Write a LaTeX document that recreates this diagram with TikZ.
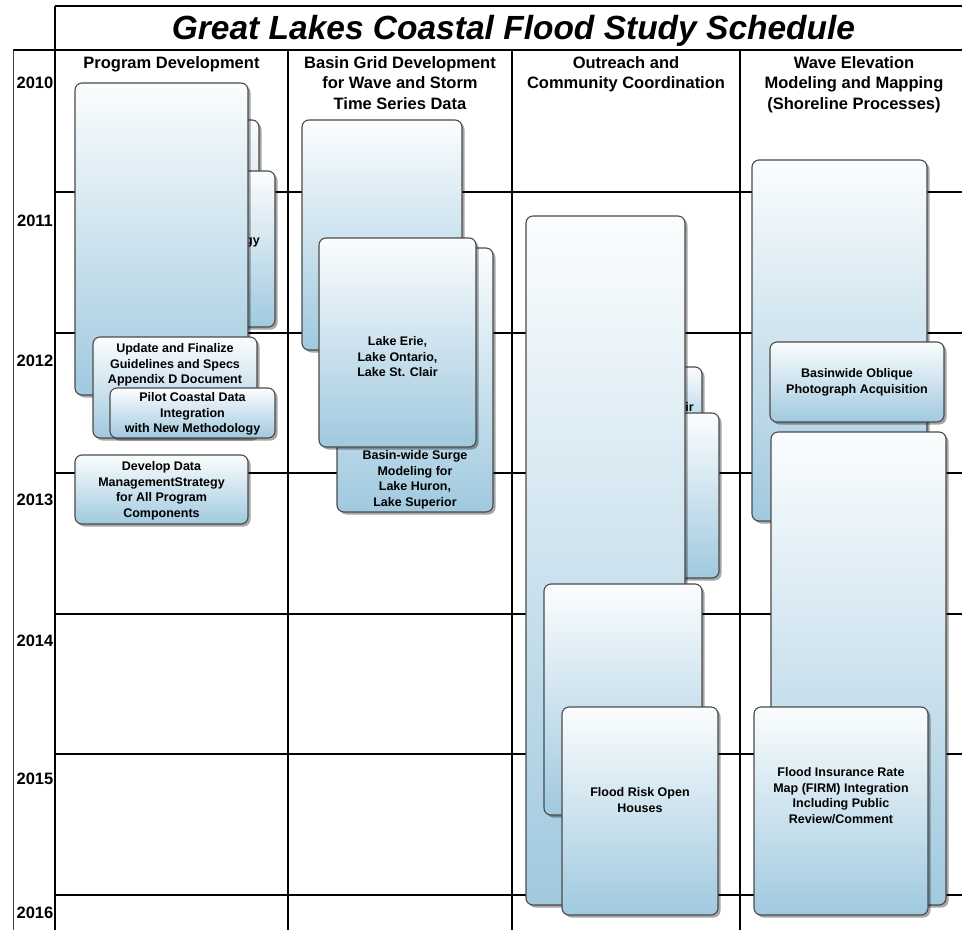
\documentclass[tikz,border=0pt]{standalone}
\usepackage{fontspec}
\setmainfont{Liberation Sans}
\usetikzlibrary{shadows}
\definecolor{boxline}{HTML}{4A4A4A}
\definecolor{boxtop}{HTML}{FBFDFE}
\definecolor{boxbot}{HTML}{A0C9DF}
\tikzset{
  gbox/.style={draw=boxline, line width=1.1pt, rounded corners=7pt,
    top color=boxtop, bottom color=boxbot,
    drop shadow={shadow xshift=2.5pt, shadow yshift=-2.5pt, opacity=0.35, fill=black},
    inner sep=0pt, outer sep=0pt, anchor=north west},
  btxt/.style={font=\fontsize{12.5}{15.5}\selectfont\bfseries, align=center, inner sep=0pt, anchor=north},
  htxt/.style={font=\fontsize{16.5}{20.5}\selectfont\bfseries, align=center, inner sep=0pt, anchor=north},
  ytxt/.style={font=\fontsize{16.5}{18}\selectfont\bfseries, inner sep=0pt, anchor=base},
  grid/.style={line width=1.5pt, black},
}
\newcommand\gb[5]{\node[gbox, minimum width=#4pt-#2pt, minimum height=#5pt-#3pt] (#1) at (#2,#3) {};}
\begin{document}
\begin{tikzpicture}[x=1pt,y=-1pt]
\useasboundingbox (0,0) rectangle (962,930);
% grid
\draw[grid] (55,6) -- (962,6);
\draw[grid] (55,6) -- (55,930);
\draw[line width=2.2pt] (13,50) -- (962,50);
\draw[line width=1pt, black!75] (13,50) -- (13,930);
\foreach \x in {288,512,740} \draw[grid] (\x,50) -- (\x,930);
\foreach \y in {192,333,473,614,754,895} \draw[grid] (55,\y) -- (962,\y);
% title
\node[font=\fontsize{33.5}{36}\selectfont\bfseries\itshape, inner sep=0pt, anchor=base] (title) at (513.5,39) {Great Lakes Coastal Flood Study Schedule};
% headers
\node[htxt] (h1) at (171.5,56) {Program Development};
\node[htxt] (h2) at (400,56) {Basin Grid Development\\for Wave and Storm\\Time Series Data};
\node[htxt] (h3) at (626,56) {Outreach and\\Community Coordination};
\node[htxt] (h4) at (854,56) {Wave Elevation\\Modeling and Mapping\\(Shoreline Processes)};
% years
\node[ytxt] (y10) at (35,88) {2010};
\node[ytxt] (y11) at (35,226) {2011};
\node[ytxt] (y12) at (35,366) {2012};
\node[ytxt] (y13) at (35,505) {2013};
\node[ytxt] (y14) at (35,646) {2014};
\node[ytxt] (y15) at (35,784) {2015};
\node[ytxt] (y16) at (35,918) {2016};
% column 1
\gb{A2}{92}{120}{259}{300}
\gb{A3}{100}{171}{275}{327}
\node[font=\fontsize{12.5}{15.5}\selectfont\bfseries, inner sep=0pt, anchor=base east] (A3t) at (260,244) {gy};
\gb{A1}{75}{83}{248}{395}
\gb{A4}{93}{337}{257}{438}
\node[btxt] (A4t) at (175,343.5) {Update and Finalize\\Guidelines and Specs\\Appendix D Document};
\gb{A5}{110}{388}{275}{438}
\node[btxt] (A5t) at (192.5,392.5) {Pilot Coastal Data\\Integration\\with New Methodology};
\gb{A6}{75}{455}{248}{524}
\node[btxt] (A6t) at (161.5,461.5) {Develop Data\\ManagementStrategy\\for All Program\\Components};
% column 2
\gb{B1}{302}{120}{462}{350}
\gb{B2}{337}{248}{493}{512}
\node[btxt] (B2t) at (415,450.5) {Basin-wide Surge\\Modeling for\\Lake Huron,\\Lake Superior};
\gb{B3}{319}{238}{476}{447}
\node[btxt] (B3t) at (397.5,336.5) {Lake Erie,\\Lake Ontario,\\Lake St. Clair};
% column 3
\gb{C2}{600}{367}{702}{440}
\node[font=\fontsize{12.5}{15.5}\selectfont\bfseries, inner sep=0pt, anchor=base east] (C2t) at (694,411) {ir};
\gb{C3}{600}{413}{719}{578}
\gb{C1}{526}{216}{685}{905}
\gb{C4}{544}{584}{702}{815}
\gb{C5}{562}{707}{718}{915}
\node[btxt] (C5t) at (640,787.5) {Flood Risk Open\\Houses};
% column 4
\gb{D1}{752}{160}{927}{521}
\gb{D2}{770}{342}{944}{422}
\node[btxt] (D2t) at (857,368.5) {Basinwide Oblique\\Photograph Acquisition};
\gb{D3}{771}{432}{946}{905}
\gb{D4}{754}{707}{928}{915}
\node[btxt] (D4t) at (841,767.5) {Flood Insurance Rate\\Map (FIRM) Integration\\Including Public\\Review/Comment};
\end{tikzpicture}
\end{document}
